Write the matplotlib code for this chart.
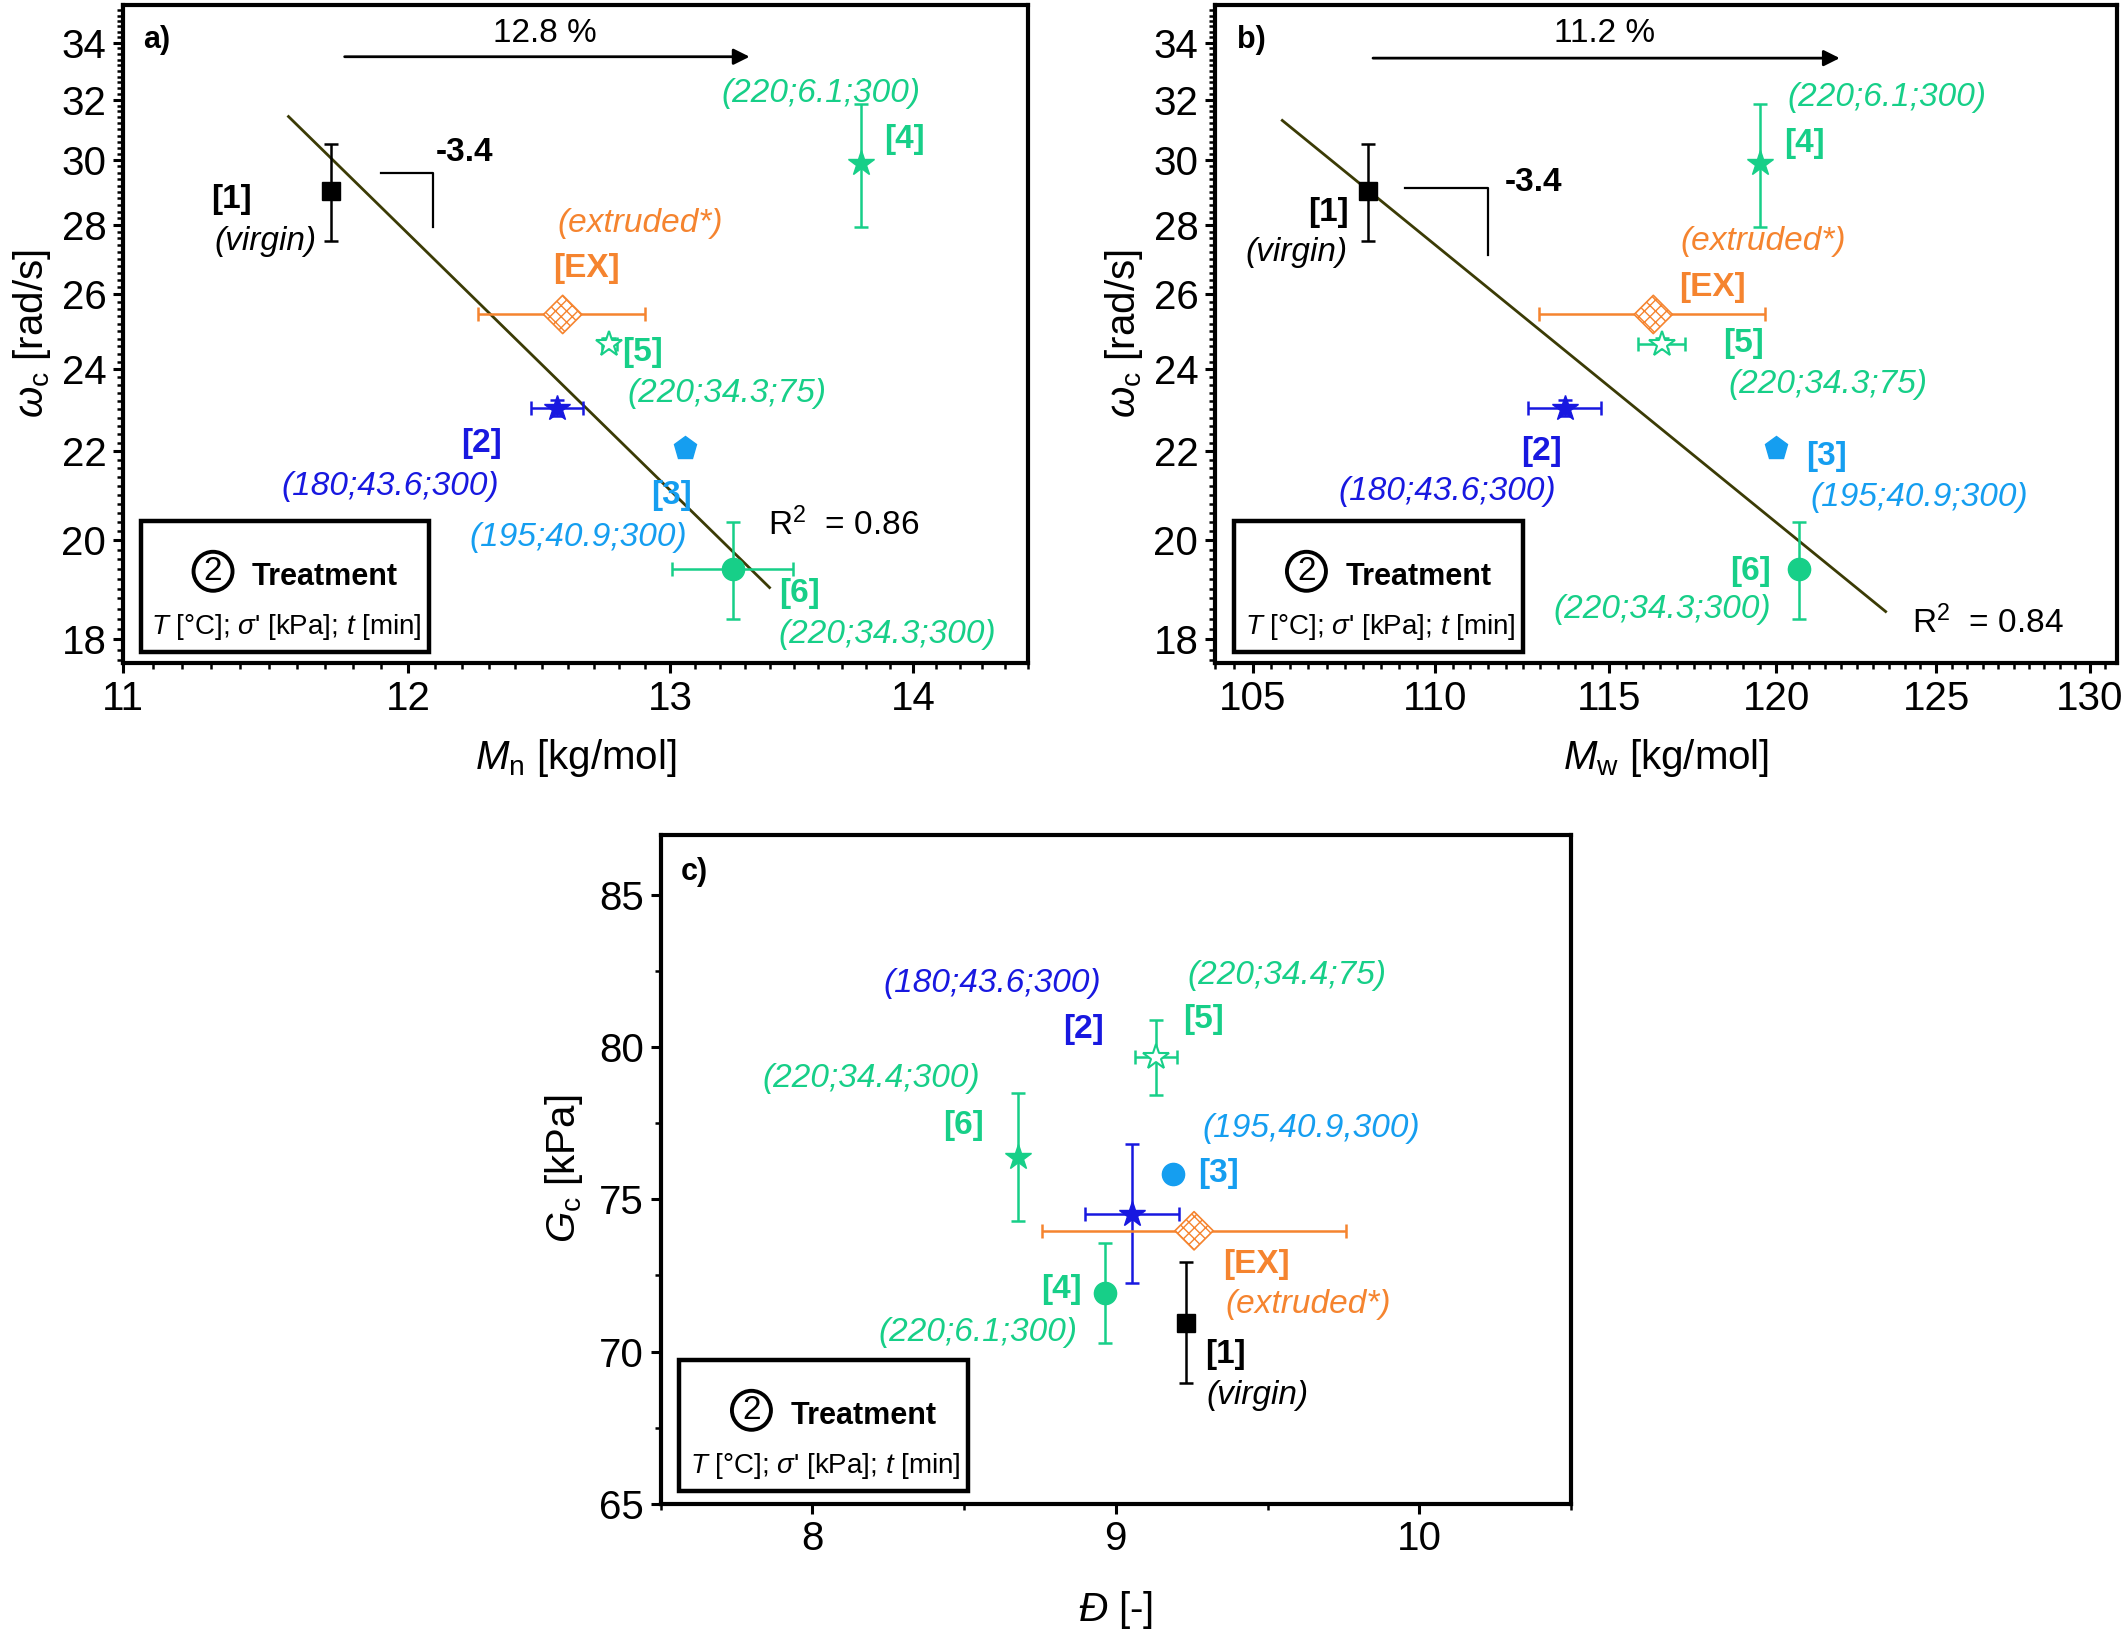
import numpy as np
import matplotlib
matplotlib.use("Agg")
import matplotlib.pyplot as plt
from matplotlib.patches import Rectangle
from matplotlib.ticker import FixedLocator, NullFormatter

plt.rcParams['font.family'] = ['Liberation Sans', 'DejaVu Sans']
plt.rcParams['mathtext.fontset'] = 'custom'
plt.rcParams['mathtext.rm'] = 'Liberation Sans'
plt.rcParams['mathtext.it'] = 'Liberation Sans:italic'
plt.rcParams['mathtext.bf'] = 'Liberation Sans:bold'

# 数据（按顺序: [1], [2], [3], [4], [5], [6], [EX]）
names = ['[1]', '[2]', '[3]', '[4]', '[5]', '[6]', '[EX]']
conds = ['(virgin)', '(180;43.6;300)', '(195;40.9;300)', '(220;6.1;300)',
         '(220;34.3;75)', '(220;34.3;300)', '(extruded*)']
conds_c = ['(virgin)', '(180;43.6;300)', '(195,40.9,300)', '(220;6.1;300)',
           '(220;34.4;75)', '(220;34.4;300)', '(extruded*)']
colors = ['#000000', '#1818E0', '#159EF0', '#17CF88', '#17CF88', '#17CF88', '#F5842F']

mn = [11.72, 12.56, 13.06, 13.78, 12.76, 13.25, 12.58]
mn_err = [0, 0.10, 0, 0, 0.03, 0.245, 0.32]
mw = [108.15, 113.7, 120.0, 119.5, 116.55, 120.7, 116.3]
mw_err = [0, 1.05, 0, 0, 0.7, 0, 3.35]
wc = [29.03, 23.03, 22.07, 29.9, 24.67, 19.40, 25.45]
wc_err = [1.5, 0.2, 0, 1.95, 0.15, 1.0, 0]

disp = [9.232, 9.055, 9.187, 8.966, 9.132, 8.679, 9.258]
disp_err = [0, 0.155, 0, 0, 0.07, 0, 0.5]
gc = [70.95, 74.53, 75.84, 71.92, 79.68, 76.39, 73.97]
gc_err = [2.0, 2.28, 0, 1.65, 1.23, 2.1, 0]

# 拟合线端点与注释
fit_a_x, fit_a_y = [11.57, 13.40], [31.43, 19.02]
fit_b_x, fit_b_y = [105.8, 123.4], [31.3, 18.54]
r2_a, r2_b = 0.86, 0.84
arrow_a, arrow_b = [11.76, 13.33], [108.2, 122.05]
pct_a, pct_b = '12.8 %', '11.2 %'

markers_ab = ['s', '*', 'p', '*', '*', 'o', 'D']
markers_c = ['s', '*', 'o', 'o', '*', '*', 'D']
msize = {'s': 13.5, '*': 19, 'p': 17, 'o': 16}

W, H = 2128, 1632
fig = plt.figure(figsize=(W / 100, H / 100), dpi=100)


def px_axes(x0, x1, y0, y1):
    return fig.add_axes([x0 / W, 1 - y1 / H, (x1 - x0) / W, (y1 - y0) / H])


ax_a = px_axes(123, 1028, 5, 663)
ax_b = px_axes(1215, 2117, 5, 663)
ax_c = px_axes(660.5, 1571, 834.5, 1503.6)

FS_TICK = 29
FS_LAB = 29
FS_ANN = 24


def style_axes(ax):
    for s in ax.spines.values():
        s.set_linewidth(3)
    ax.tick_params(which='major', direction='out', length=7, width=2.2,
                   labelsize=FS_TICK, top=False, right=False, pad=5)
    ax.tick_params(which='minor', direction='out', length=4, width=1.8,
                   top=False, right=False)


def draw_points(ax, xs, ys, xerr, yerr, markers):
    for i in range(len(xs)):
        c = colors[i]
        xe = xerr[i] if xerr[i] else None
        ye = yerr[i] if yerr[i] else None
        if xe is not None or ye is not None:
            ax.errorbar(xs[i], ys[i], xerr=xe, yerr=ye, fmt='none', ecolor=c,
                        elinewidth=1.8, capsize=5, capthick=1.8, zorder=3)
        m = markers[i]
        if m == 'D':
            ax.scatter([xs[i]], [ys[i]], marker='D', s=380, facecolor='white',
                       edgecolor=c, hatch='xxx', linewidth=1.2, zorder=4)
        elif i == 4:
            ax.plot(xs[i], ys[i], marker=m, ms=msize[m], mfc='white', mec=c,
                    mew=1.5, ls='none', zorder=4)
        else:
            ax.plot(xs[i], ys[i], marker=m, ms=msize[m], color=c, ls='none', zorder=4)


def treatment_box(ax, x0, y0, w, h):
    ax.add_patch(Rectangle((x0, y0), w, h, transform=ax.transAxes, fc='white',
                           ec='black', lw=3.2, zorder=6))
    ax.text(x0 + 0.25 * w, y0 + 0.615 * h, '2', transform=ax.transAxes, fontsize=24,
            ha='center', va='center', zorder=7,
            bbox=dict(boxstyle='circle,pad=0.12', fc='white', ec='black', lw=2.8))
    ax.text(x0 + 0.385 * w, y0 + 0.575 * h, 'Treatment', transform=ax.transAxes,
            fontsize=22, fontweight='bold', ha='left', va='center', zorder=7)
    ax.text(x0 + 0.505 * w, y0 + 0.19 * h,
            r'$T$ [°C]; $\sigma$' + "' [kPa]; " + r'$t$ [min]',
            transform=ax.transAxes, fontsize=20, ha='center', va='center', zorder=7)


def label(ax, fx, fy, s, color, bold=False, italic=False, size=FS_ANN, ha='center'):
    ax.text(fx, fy, s, transform=ax.transAxes, color=color, fontsize=size,
            fontweight='bold' if bold else 'normal',
            fontstyle='italic' if italic else 'normal', ha=ha, va='center', zorder=5)


# ---------- a) ----------
ax = ax_a
ax.set_xscale('log')
ax.set_yscale('log')
ax.set_xlim(11, 14.5)
ax.set_ylim(17.55, 35.4)
ax.plot(fit_a_x, fit_a_y, color='#3B3B05', lw=2, zorder=2)
draw_points(ax, mn, wc, mn_err, wc_err, markers_ab)
ax.xaxis.set_major_locator(FixedLocator([11, 12, 13, 14]))
ax.xaxis.set_minor_locator(FixedLocator(np.arange(11, 14.51, 0.1)))
ax.set_xticklabels(['11', '12', '13', '14'])
ax.xaxis.set_minor_formatter(NullFormatter())
ax.set_xlabel(r'$M_\mathrm{n}$ [kg/mol]', fontsize=FS_LAB, labelpad=14)
ax.set_ylabel(r'$\omega_\mathrm{c}$ [rad/s]', fontsize=FS_LAB, labelpad=6)
ax.plot([11.90, 12.09, 12.09], [29.6, 29.6, 27.95], color='k', lw=1.6)
ax.text(12.21, 30.25, '-3.4', fontsize=FS_ANN, fontweight='bold', ha='center', va='center')
ax.annotate('', xy=(arrow_a[1], 33.5), xytext=(arrow_a[0], 33.5),
            arrowprops=dict(arrowstyle='-|>', lw=2, color='k', mutation_scale=24))
label(ax, 0.466, 0.957, pct_a, 'k')
label(ax, 0.022, 0.947, 'a)', 'k', bold=True, size=22, ha='left')
label(ax, 0.796, 0.210, r'R$^2$  = ' + f'{r2_a:.2f}', 'k')
lab_a = [(0.120, 0.704), (0.396, 0.333), (0.606, 0.255), (0.863, 0.796),
         (0.574, 0.472), (0.747, 0.105), (0.512, 0.600)]
cond_a = [(0.157, 0.641), (0.295, 0.268), (0.503, 0.190), (0.771, 0.865),
          (0.667, 0.409), (0.844, 0.044), (0.571, 0.668)]
for i in range(7):
    label(ax, *lab_a[i], names[i], colors[i], bold=True)
    label(ax, *cond_a[i], conds[i], colors[i], italic=True)
treatment_box(ax, 0.020, 0.017, 0.318, 0.199)
style_axes(ax)

# ---------- b) ----------
ax = ax_b
ax.set_xscale('log')
ax.set_yscale('log')
ax.set_xlim(104, 130.9)
ax.set_ylim(17.55, 35.4)
ax.plot(fit_b_x, fit_b_y, color='#3B3B05', lw=2, zorder=2)
draw_points(ax, mw, wc, mw_err, wc_err, markers_ab)
ax.xaxis.set_major_locator(FixedLocator([105, 110, 115, 120, 125, 130]))
ax.xaxis.set_minor_locator(FixedLocator(np.arange(104, 131, 0.5)))
ax.set_xticklabels(['105', '110', '115', '120', '125', '130'])
ax.xaxis.set_minor_formatter(NullFormatter())
ax.set_xlabel(r'$M_\mathrm{w}$ [kg/mol]', fontsize=FS_LAB, labelpad=14)
ax.set_ylabel(r'$\omega_\mathrm{c}$ [rad/s]', fontsize=FS_LAB, labelpad=6)
ax.plot([109.15, 111.5, 111.5], [29.13, 29.13, 27.13], color='k', lw=1.6)
ax.text(112.8, 29.3, '-3.4', fontsize=FS_ANN, fontweight='bold', ha='center', va='center')
ax.annotate('', xy=(arrow_b[1], 33.45), xytext=(arrow_b[0], 33.45),
            arrowprops=dict(arrowstyle='-|>', lw=2, color='k', mutation_scale=24))
label(ax, 0.432, 0.957, pct_b, 'k')
label(ax, 0.024, 0.947, 'b)', 'k', bold=True, size=22, ha='left')
label(ax, 0.857, 0.061, r'R$^2$  = ' + f'{r2_b:.2f}', 'k')
lab_b = [(0.1255, 0.685), (0.3617, 0.322), (0.678, 0.314), (0.654, 0.789),
         (0.586, 0.485), (0.5936, 0.139), (0.552, 0.570)]
cond_b = [(0.0906, 0.624), (0.2578, 0.261), (0.781, 0.251), (0.745, 0.860),
          (0.679, 0.424), (0.496, 0.0815), (0.608, 0.641)]
for i in range(7):
    label(ax, *lab_b[i], names[i], colors[i], bold=True)
    label(ax, *cond_b[i], conds[i], colors[i], italic=True)
treatment_box(ax, 0.0215, 0.017, 0.3195, 0.199)
style_axes(ax)

for axx in (ax_a, ax_b):
    axx.yaxis.set_major_locator(FixedLocator([18, 20, 22, 24, 26, 28, 30, 32, 34]))
    axx.yaxis.set_minor_locator(FixedLocator(np.arange(17.6, 35.4, 0.2)))
    axx.set_yticklabels(['18', '20', '22', '24', '26', '28', '30', '32', '34'])
    axx.yaxis.set_minor_formatter(NullFormatter())

# ---------- c) ----------
ax = ax_c
ax.set_xlim(7.5, 10.5)
ax.set_ylim(65, 87)
draw_points(ax, disp, gc, disp_err, gc_err, markers_c)
ax.set_xticks([8, 9, 10])
ax.set_yticks([65, 70, 75, 80, 85])
ax.xaxis.set_minor_locator(FixedLocator(np.arange(7.5, 10.51, 0.5)))
ax.yaxis.set_minor_locator(FixedLocator(np.arange(65, 87, 2.5)))
ax.set_xlabel(r'$\mathit{Đ}$ [-]', fontsize=FS_LAB, labelpad=22)
ax.set_ylabel(r'$G_\mathrm{c}$ [kPa]', fontsize=FS_LAB, labelpad=10)
label(ax, 0.022, 0.944, 'c)', 'k', bold=True, size=22, ha='left')
lab_c = [(0.620, 0.223), (0.465, 0.708), (0.6126, 0.493), (0.440, 0.320),
         (0.596, 0.724), (0.3325, 0.565), (0.6546, 0.358)]
cond_pos_c = [(0.656, 0.161), (0.364, 0.778), (0.715, 0.560), (0.349, 0.2555),
              (0.688, 0.790), (0.2316, 0.635), (0.711, 0.298)]
for i in range(7):
    label(ax, *lab_c[i], names[i], colors[i], bold=True)
    label(ax, *cond_pos_c[i], conds_c[i], colors[i], italic=True)
treatment_box(ax, 0.0205, 0.0195, 0.3175, 0.195)
style_axes(ax)

fig.savefig('out.png', dpi=100)
